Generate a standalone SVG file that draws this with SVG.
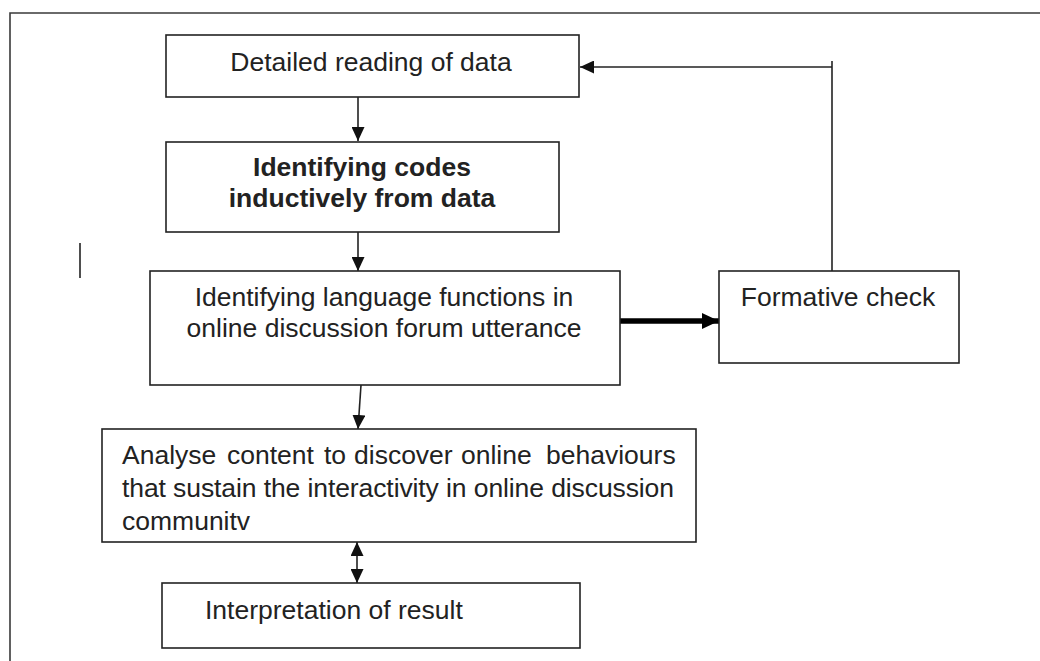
<svg xmlns="http://www.w3.org/2000/svg" width="1040" height="661" viewBox="0 0 1040 661">
  <style>
    .box { fill: #ffffff; stroke: #222222; stroke-width: 1.6; }
    .frame { fill: none; stroke: #3a3a3a; stroke-width: 1.6; }
    .lbl { font-family: "Liberation Sans", Arial, sans-serif; font-size: 26.5px; fill: #222222; }
    .mid { text-anchor: middle; }
    .bold { font-weight: bold; }
    .conn { fill: none; stroke: #222222; stroke-width: 1.6; }
    .thick { fill: none; stroke: #000000; stroke-width: 5.5; }
  </style>
  <defs>
    <marker id="arrow" markerUnits="userSpaceOnUse" viewBox="0 0 14 13" markerWidth="14" markerHeight="13" refX="14" refY="6.5" orient="auto-start-reverse">
      <path d="M0,0 L14,6.5 L0,13 z" fill="#111111"/>
    </marker>
    <marker id="arrowBig" markerUnits="userSpaceOnUse" viewBox="0 0 17 16" markerWidth="17" markerHeight="16" refX="17" refY="8" orient="auto">
      <path d="M0,0 L17,8 L0,16 z" fill="#000000"/>
    </marker>
  </defs>

  <rect width="1040" height="661" fill="#ffffff"/>

  <!-- page frame (cut off at right and bottom) -->
  <path class="frame" d="M10,661 L10,13 L1040,13"/>

  <!-- stray text cursor mark -->
  <line x1="80" y1="243" x2="80" y2="278" stroke="#222222" stroke-width="1.6"/>

  <g id="connectors">
    <line class="conn" x1="358" y1="97" x2="358" y2="141" marker-end="url(#arrow)"/>
    <line class="conn" x1="358" y1="232" x2="358" y2="271" marker-end="url(#arrow)"/>
    <line class="conn" x1="361" y1="385" x2="358" y2="429" marker-end="url(#arrow)"/>
    <line class="conn" x1="357" y1="542" x2="357" y2="583" marker-start="url(#arrow)" marker-end="url(#arrow)"/>
    <line class="thick" x1="620" y1="321" x2="719" y2="321" marker-end="url(#arrowBig)"/>
    <path class="conn" d="M832,271 L832,61"/>
    <line class="conn" x1="832" y1="67" x2="580" y2="67" marker-end="url(#arrow)"/>
  </g>

  <g id="reading">
    <rect class="box" x="166" y="35" width="413" height="62"/>
    <text class="lbl mid" x="371" y="71">Detailed reading of data</text>
  </g>

  <g id="codes">
    <rect class="box" x="166" y="142" width="393" height="90"/>
    <text class="lbl mid bold" x="362" y="176">Identifying codes</text>
    <text class="lbl mid bold" x="362" y="207">inductively from data</text>
  </g>

  <g id="functions">
    <rect class="box" x="150" y="271" width="470" height="114"/>
    <text class="lbl mid" x="384" y="306">Identifying language functions in</text>
    <text class="lbl mid" x="384" y="337">online discussion forum utterance</text>
  </g>

  <g id="formative">
    <rect class="box" x="719" y="271" width="240" height="92"/>
    <text class="lbl mid" x="838" y="306">Formative check</text>
  </g>

  <g id="analyse">
    <rect class="box" x="102" y="429" width="594" height="113"/>
    <text class="lbl" y="464"><tspan x="122">Analyse</tspan><tspan x="227">content</tspan><tspan x="324">to</tspan><tspan x="354">discover</tspan><tspan x="461">online</tspan><tspan x="546">behaviours</tspan></text>
    <text class="lbl" x="122" y="497" textLength="552" lengthAdjust="spacing">that sustain the interactivity in online discussion</text>
    <text class="lbl" x="122" y="530">communitv</text>
  </g>

  <g id="interpretation">
    <rect class="box" x="162" y="583" width="418" height="65"/>
    <text class="lbl" x="205" y="619">Interpretation of result</text>
  </g>
</svg>
